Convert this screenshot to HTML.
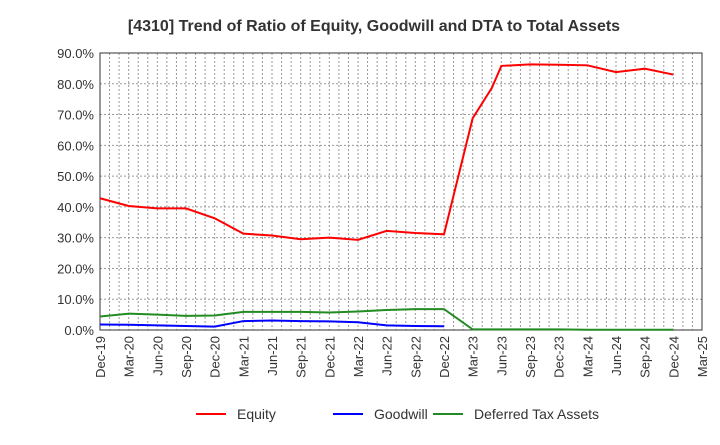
<!DOCTYPE html>
<html><head><meta charset="utf-8"><style>
body{margin:0;background:#fff;}
svg{font-family:"Liberation Sans",sans-serif;}
</style></head><body>
<svg id="c" width="720" height="440">
<text x="374" y="31" text-anchor="middle" font-size="16" font-weight="bold" fill="#333">[4310]  Trend of Ratio of Equity, Goodwill and DTA to Total Assets</text>
</svg>
<script>
const xLabels=["Dec-19","Mar-20","Jun-20","Sep-20","Dec-20","Mar-21","Jun-21","Sep-21","Dec-21","Mar-22","Jun-22","Sep-22","Dec-22","Mar-23","Jun-23","Sep-23","Dec-23","Mar-24","Jun-24","Sep-24","Dec-24","Mar-25"];
const yTicks=[0,10,20,30,40,50,60,70,80,90];
const equityMonths=[0,3,6,9,12,15,18,21,24,27,30,33,36,39,41,42,45,48,51,54,57,60];
const equity=[42.8,40.3,39.5,39.5,36.3,31.3,30.7,29.5,30.0,29.3,32.2,31.5,31.1,68.8,78.6,85.8,86.3,86.2,86.0,83.8,84.9,83.0];
const goodwillMonths=[0,3,6,9,12,15,18,21,24,27,30,33,36];
const goodwill=[1.8,1.7,1.5,1.3,1.1,2.9,3.1,2.9,2.8,2.5,1.5,1.3,1.2];
const dtaMonths=[0,3,6,9,12,15,18,21,24,27,30,33,36,39,42,45,48,51,54,57,60];
const dta=[4.4,5.3,5.0,4.6,4.7,5.9,5.9,5.9,5.7,6.0,6.5,6.8,6.8,0.2,0.2,0.2,0.2,0.1,0.1,0.1,0.1];
const L=100,R=702,T=53,B=330;
const xs=m=>L+(R-L)*m/63, ys=v=>B-(B-T)*v/90;
const svg=document.getElementById('c'),NS="http://www.w3.org/2000/svg";
function mk(t,a,p){const e=document.createElementNS(NS,t);for(const k in a)e.setAttribute(k,a[k]);(p||svg).appendChild(e);return e;}
const g=mk('g',{});


for(let m=1;m<63;m++)mk('line',{x1:xs(m),x2:xs(m),y1:T,y2:B,stroke:'#999','stroke-dasharray':'2,2','stroke-width':1},g);
yTicks.forEach(v=>{if(v>0&&v<90)mk('line',{x1:L,x2:R,y1:ys(v),y2:ys(v),stroke:'#999','stroke-dasharray':'2,2','stroke-width':1},g);
const t=mk('text',{x:L-6,y:ys(v)+5,'text-anchor':'end','font-size':13,fill:'#333'});t.textContent=v.toFixed(1)+'%';

});
const fr=mk('rect',{x:L,y:T,width:R-L,height:B-T,fill:'none',stroke:'#333','stroke-width':1});


xLabels.forEach((s,i)=>{const x=xs(i*3);const t=mk('text',{transform:`translate(${x+5},${B+6}) rotate(-90)`,'text-anchor':'end','font-size':13,fill:'#333'});t.textContent=s;

});
function line(ms,vs,c,n){const p=mk('polyline',{points:ms.map((m,i)=>xs(m)+','+ys(vs[i])).join(' '),fill:'none',stroke:c,'stroke-width':2});

}
line(dtaMonths,dta,'#228b22','dta-line');
line(goodwillMonths,goodwill,'#0000ff','goodwill-line');
line(equityMonths,equity,'#ff0000','equity-line');
[["Equity",'#ff0000',196],["Goodwill",'#0000ff',333],["Deferred Tax Assets",'#228b22',433]].forEach(([s,c,x])=>{
const lg=mk('g',{});


mk('line',{x1:x,x2:x+30,y1:414,y2:414,stroke:c,'stroke-width':2},lg);
const t=mk('text',{x:x+41,y:419,'font-size':14,fill:'#333'},lg);t.textContent=s;});
</script>
</body></html>
